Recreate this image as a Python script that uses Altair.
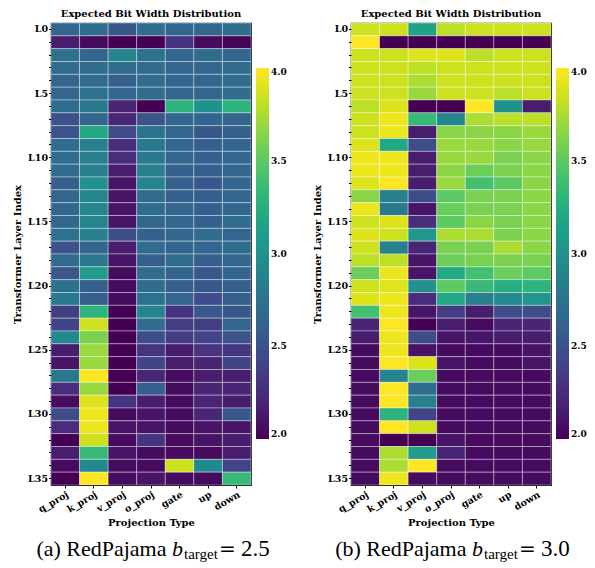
import altair as alt
import pandas as pd

layers = [f"L{i}" for i in range(36)]
projections = ["q_proj", "k_proj", "v_proj", "o_proj", "gate", "up", "down"]
major_layers = ["L0", "L5", "L10", "L15", "L20", "L25", "L30", "L35"]
colorbar_ticks = [2.0, 2.5, 3.0, 3.5, 4.0]

bits_a = [
    [2.65, 2.70, 2.55, 2.70, 2.65, 2.65, 2.70],
    [2.15, 2.05, 2.00, 2.00, 2.30, 2.05, 2.02],
    [2.75, 2.65, 2.90, 2.75, 2.65, 2.70, 2.65],
    [2.70, 2.70, 2.70, 2.70, 2.65, 2.65, 2.70],
    [2.65, 2.70, 2.60, 2.70, 2.65, 2.65, 2.70],
    [2.65, 2.75, 2.65, 2.70, 2.65, 2.65, 2.70],
    [2.70, 2.80, 2.20, 2.00, 3.30, 3.00, 3.30],
    [2.50, 2.65, 2.20, 2.50, 2.65, 2.65, 2.65],
    [2.50, 3.20, 2.45, 2.75, 2.65, 2.55, 2.60],
    [2.70, 2.85, 2.25, 2.80, 2.65, 2.60, 2.65],
    [2.70, 2.85, 2.25, 2.80, 2.65, 2.60, 2.65],
    [2.70, 2.85, 2.15, 2.85, 2.60, 2.60, 2.65],
    [2.60, 3.00, 2.10, 2.90, 2.60, 2.55, 2.65],
    [2.65, 2.90, 2.10, 2.70, 2.60, 2.60, 2.65],
    [2.65, 2.90, 2.10, 2.70, 2.65, 2.60, 2.65],
    [2.65, 2.90, 2.10, 2.65, 2.65, 2.60, 2.70],
    [2.75, 2.85, 2.45, 2.60, 2.65, 2.70, 2.65],
    [2.50, 2.65, 2.15, 2.70, 2.65, 2.65, 2.70],
    [2.70, 2.80, 2.10, 2.60, 2.70, 2.60, 2.65],
    [2.55, 3.10, 2.05, 2.70, 2.65, 2.55, 2.65],
    [2.75, 2.60, 2.05, 2.70, 2.60, 2.55, 2.60],
    [2.80, 2.60, 2.05, 2.75, 2.65, 2.45, 2.60],
    [2.35, 3.30, 2.00, 2.90, 2.30, 2.55, 2.55],
    [2.40, 3.85, 2.00, 2.70, 2.35, 2.35, 2.65],
    [2.95, 3.60, 2.00, 2.45, 2.35, 2.40, 2.50],
    [2.15, 3.70, 2.00, 2.30, 2.15, 2.30, 2.30],
    [2.10, 3.70, 2.00, 2.40, 2.15, 2.20, 2.40],
    [2.80, 4.00, 2.00, 2.20, 2.05, 2.15, 2.15],
    [2.25, 3.70, 2.00, 2.60, 2.05, 2.20, 2.20],
    [2.05, 3.90, 2.30, 2.15, 2.05, 2.20, 2.15],
    [2.45, 3.95, 2.05, 2.10, 2.05, 2.20, 2.55],
    [2.25, 3.95, 2.10, 2.10, 2.05, 2.10, 2.10],
    [2.00, 3.85, 2.05, 2.30, 2.05, 2.10, 2.15],
    [2.15, 3.35, 2.10, 2.05, 2.05, 2.05, 2.15],
    [2.05, 2.95, 2.05, 2.05, 3.85, 2.95, 2.40],
    [2.00, 4.00, 2.05, 2.10, 2.05, 2.05, 3.35],
]

bits_b = [
    [3.85, 3.85, 3.15, 3.80, 3.85, 3.85, 3.85],
    [4.00, 2.00, 2.00, 2.00, 2.00, 2.00, 2.00],
    [3.85, 3.85, 3.90, 3.90, 3.80, 3.85, 3.85],
    [3.85, 3.85, 3.80, 3.85, 3.85, 3.85, 3.85],
    [3.85, 3.85, 3.75, 3.85, 3.85, 3.85, 3.85],
    [3.85, 3.85, 3.70, 3.85, 3.85, 3.80, 3.85],
    [3.80, 3.90, 2.00, 2.00, 4.00, 3.00, 2.15],
    [3.85, 3.95, 3.35, 2.90, 3.75, 3.80, 3.80],
    [3.85, 3.95, 2.15, 3.65, 3.65, 3.65, 3.70],
    [3.90, 3.20, 2.45, 3.70, 3.70, 3.65, 3.70],
    [3.95, 3.95, 2.15, 3.70, 3.70, 3.60, 3.65],
    [3.95, 3.95, 2.15, 3.65, 3.55, 3.60, 3.65],
    [3.90, 4.00, 2.15, 3.70, 3.40, 3.50, 3.65],
    [3.65, 2.85, 2.45, 3.50, 3.60, 3.60, 3.65],
    [3.95, 2.80, 2.10, 3.55, 3.60, 3.60, 3.65],
    [3.85, 3.90, 2.25, 3.50, 3.65, 3.60, 3.65],
    [3.90, 3.85, 3.05, 3.75, 3.75, 3.60, 3.65],
    [3.85, 2.85, 2.20, 3.60, 3.60, 3.75, 3.65],
    [3.80, 3.80, 2.10, 3.55, 3.60, 3.60, 3.60],
    [3.55, 3.95, 2.10, 3.20, 3.40, 3.55, 3.50],
    [3.85, 3.90, 3.00, 3.50, 3.35, 3.25, 3.30],
    [3.90, 3.95, 2.25, 3.20, 2.85, 2.95, 3.05],
    [3.40, 3.95, 2.10, 2.35, 2.15, 2.45, 2.45],
    [2.20, 4.00, 2.00, 2.15, 2.05, 2.20, 2.20],
    [2.15, 3.95, 2.45, 2.10, 2.10, 2.15, 2.15],
    [2.05, 3.95, 2.10, 2.05, 2.05, 2.05, 2.10],
    [2.05, 4.00, 3.90, 2.10, 2.05, 2.05, 2.10],
    [2.05, 2.90, 3.55, 2.05, 2.05, 2.05, 2.05],
    [2.05, 4.00, 2.70, 2.05, 2.05, 2.05, 2.05],
    [2.05, 4.00, 2.85, 2.05, 2.05, 2.05, 2.05],
    [2.05, 3.30, 2.40, 2.05, 2.05, 2.05, 2.05],
    [2.05, 4.00, 3.85, 2.05, 2.05, 2.05, 2.05],
    [2.05, 2.00, 2.00, 2.10, 2.05, 2.05, 2.05],
    [2.05, 3.75, 3.10, 2.20, 2.05, 2.05, 2.05],
    [2.05, 3.75, 4.00, 2.05, 2.05, 2.05, 2.05],
    [2.05, 3.95, 2.05, 2.05, 2.05, 2.05, 2.05],
]

caption_heads = ["(a) RedPajama", "(b) RedPajama"]
caption_targets = ["2.5", "3.0"]

SERIF = "DejaVu Serif"
CAP = "Liberation Serif, Times New Roman, Times, serif"


def caption_piece(text, x, y, size, style="normal", align="left", font=CAP):
    return alt.Chart(pd.DataFrame({"t": [text]})).mark_text(
        align=align, baseline="alphabetic", font=font, fontSize=size,
        fontStyle=style, color="black"
    ).encode(x=alt.value(x), y=alt.value(y), text="t:N")


def panel(values, head, target):
    rows = []
    for i, lay in enumerate(layers):
        for j, proj in enumerate(projections):
            rows.append({"layer": lay, "proj": proj, "bits": values[i][j]})
    df = pd.DataFrame(rows)
    label_expr = "indexof(" + str(major_layers) + ", datum.value) >= 0 ? datum.value : ''"
    heat = alt.Chart(df).mark_rect(
        stroke="white", strokeWidth=0.8, strokeOpacity=0.45
    ).encode(
        x=alt.X("proj:N", sort=projections,
                scale=alt.Scale(paddingInner=0, paddingOuter=0),
                axis=alt.Axis(title="Projection Type", labelAngle=-30,
                              labelAlign="right", labelBaseline="top",
                              labelFont=SERIF, labelFontWeight="bold",
                              labelFontSize=9.5, labelColor="black",
                              titleFont=SERIF, titleFontWeight="bold",
                              titleFontSize=10, titleColor="black",
                              tickSize=3, tickColor="black", domain=False,
                              labelPadding=1, titlePadding=4)),
        y=alt.Y("layer:N", sort=layers,
                scale=alt.Scale(paddingInner=0, paddingOuter=0),
                axis=alt.Axis(title="Transformer Layer Index",
                              labelExpr=label_expr,
                              labelFont=SERIF, labelFontWeight="bold",
                              labelFontSize=9.5, labelColor="black",
                              titleFont=SERIF, titleFontWeight="bold",
                              titleFontSize=10, titleColor="black",
                              tickSize=2.5, tickColor="black", domain=False,
                              labelPadding=1, titlePadding=5)),
        color=alt.Color("bits:Q",
                        scale=alt.Scale(scheme="viridis", domain=[2, 4], clamp=True),
                        legend=alt.Legend(orient="none", legendX=205, legendY=45,
                                          direction="vertical", title=None,
                                          gradientLength=371, gradientThickness=13,
                                          values=colorbar_ticks, format=".1f",
                                          labelFont=SERIF, labelFontWeight="bold",
                                          labelFontSize=9, labelColor="black",
                                          labelOffset=2, labelBaseline="middle",
                                          labelOverlap=False, padding=0,
                                          gradientStrokeWidth=0)),
    )
    yb = 533
    caps = [
        caption_piece(head, 115.5, yb, 22, align="right"),
        caption_piece("b", 121, yb, 22, style="italic"),
        caption_piece("target", 133, yb + 2.5, 15),
        caption_piece("=", 168, yb, 20, font="DejaVu Serif"),
        caption_piece(target, 190, yb, 23),
    ]
    return alt.layer(heat, *caps).properties(
        width=200, height=462,
        title=alt.Title("Expected Bit Width Distribution", font=SERIF,
                        fontSize=10, fontWeight="bold", anchor="middle",
                        offset=4, color="black"),
    )


chart = alt.hconcat(
    panel(bits_a, caption_heads[0], caption_targets[0]),
    panel(bits_b, caption_heads[1], caption_targets[1]),
    spacing=24,
).resolve_scale(color="independent").configure_view(
    stroke="black", strokeWidth=1.2
).properties(
    padding={"left": 4, "top": 0, "right": -1, "bottom": -1}
)

chart.save("out.html", embed_options={"renderer": "svg", "actions": False})
